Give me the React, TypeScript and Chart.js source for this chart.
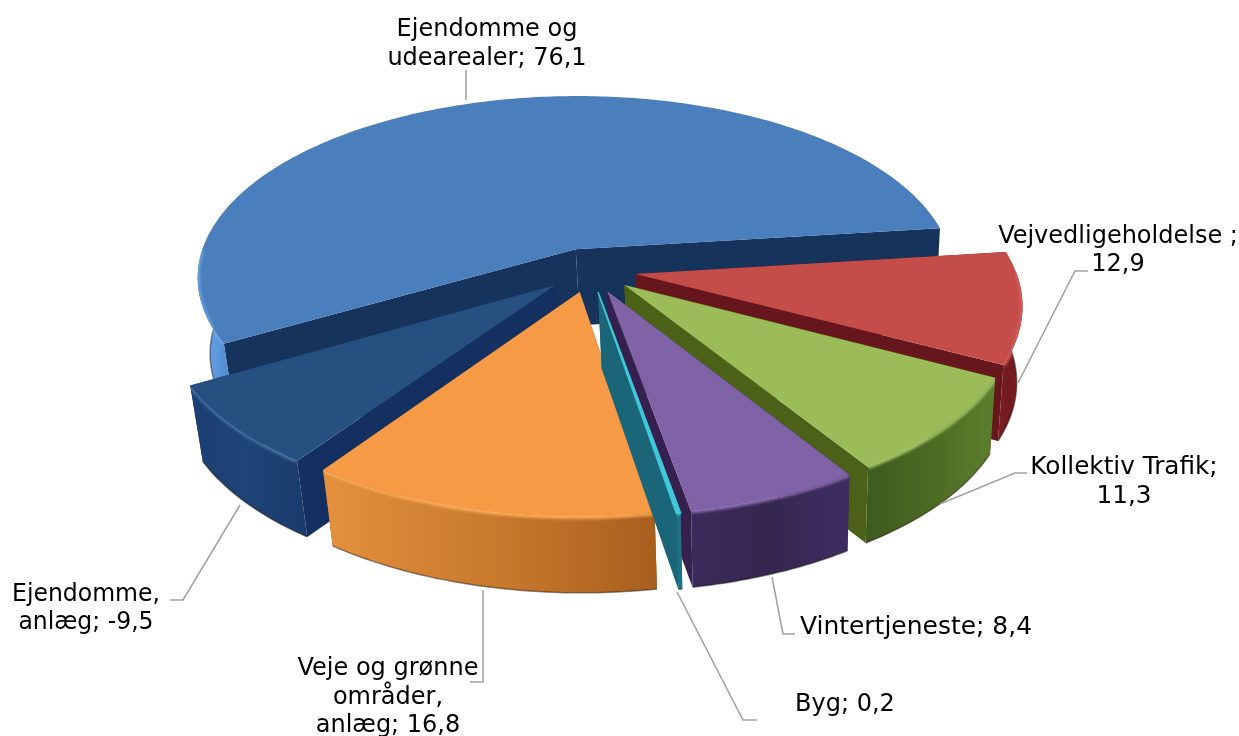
import React, { useEffect, useRef } from "react";
import { Chart, registerables } from "chart.js";

Chart.register(...registerables);

const categories = [
  "Vejvedligeholdelse ",
  "Kollektiv Trafik",
  "Vintertjeneste",
  "Byg",
  "Veje og grønne\nområder,\nanlæg",
  "Ejendomme,\nanlæg",
  "Ejendomme og\nudearealer",
];
const values = [12.9, 11.3, 8.4, 0.2, 16.8, -9.5, 76.1];
const breakBeforeValue = [true, true, false, false, false, false, false];

const topColors = ["#c44d4a", "#9cbc59", "#8062a6", "#3fc8d8", "#f79a45", "#26507f", "#4a7ebd"];
const wallColors = ["#66161c", "#4b6118", "#35204f", "#1a6678", "#8a4d14", "#133060", "#16335c"];
const rimStops = [
  ["#7d1f22", "#701a1f", "#8a2226"],
  ["#3f5a1f", "#4c6a23", "#5d7f2c"],
  ["#3b2a5b", "#35264f", "#3e2d62"],
  ["#1d7183", "#1d7183", "#1d7183"],
  ["#e4903e", "#c97a2d", "#a85f1e"],
  ["#1c3f73", "#1f4478", "#1a3a6c"],
  ["#6aa4e8", "#5e98dd", "#4a80c4"],
];
const bevelColors = ["#d9605c", "#a9c96a", "#9072b6", "#4fd4e0", "#ffb05a", "#4a78a8", "#6aa4e4"];
const topStroke = [0, 0, 0, 1.6, 0, 0, 0];
const drawOrder = [6, 0, 5, 1, 4, 2, 3];

// label layout, same index as categories
const labelCentres = [
  [1118, 237], [1124, 468], [916, 628], [845, 705], [388, 669], [86, 595], [487, 30],
];
const labelLineGap = [28, 29, 28, 28, 28.5, 28, 29];
const labelScaleX = [1, 1.03, 1.04, 1, 1, 0.98, 1];
const leaders = [
  [[1088, 271], [1075, 271], [1018, 383]],
  [[1027, 473], [1015, 473], [940, 504]],
  [[795, 634], [783, 634], [772, 577]],
  [[757, 720], [743, 720], [677, 592]],
  [[483, 590], [483, 682], [470, 682]],
  [[240, 505], [183, 600], [170, 600]],
  [[466, 70], [466, 100]],
];

const DEPTH = 76;
const TILT = 0.481;
const CAMERA = 2470;
const CONVERGE = 0.022;
const CONVERGE_X = 170;
const FACING = -0.02;

function project(e: any, dx: number, dy: number, z: number) {
  const s = 1 / (1 - dy / CAMERA);
  const x = dx * s;
  return [e.x + x + z * CONVERGE * (CONVERGE_X - x), e.y + TILT * dy * s + z * DEPTH];
}

function slicePaths(e: any) {
  const off = (e.options.offset || 0) / 4;
  const mid = (e.startAngle + e.endAngle) / 2;
  const ox = Math.cos(mid) * off;
  const oy = Math.sin(mid) * off;
  const steps = Math.max(2, Math.ceil((e.endAngle - e.startAngle) / 0.015));
  const angle = (i: number) => e.startAngle + ((e.endAngle - e.startAngle) * i) / steps;
  const arc = (z: number) => {
    const out: number[][] = [];
    for (let i = 0; i <= steps; i++) {
      const a = angle(i);
      out.push(project(e, ox + Math.cos(a) * e.outerRadius, oy + Math.sin(a) * e.outerRadius, z));
    }
    return out;
  };
  const top = arc(0);
  const bottom = arc(1);
  const facing = (_: number[], i: number) => Math.sin(angle(i)) > FACING;
  return {
    top,
    bottom,
    frontTop: top.filter(facing),
    frontBottom: bottom.filter(facing),
    apex0: project(e, ox, oy, 0),
    apex1: project(e, ox, oy, 1),
  };
}

function trace(ctx: CanvasRenderingContext2D, pts: number[][], close = true) {
  ctx.beginPath();
  pts.forEach((p, i) => (i ? ctx.lineTo(p[0], p[1]) : ctx.moveTo(p[0], p[1])));
  if (close) ctx.closePath();
}

const pie3d = {
  id: "pie3d",
  beforeDatasetDraw(chart: any, args: any) {
    const ctx: CanvasRenderingContext2D = chart.ctx;
    const arcs = chart.getDatasetMeta(args.index).data;
    drawOrder.forEach((i) => {
      const e = arcs[i];
      const { top, bottom, frontTop, frontBottom, apex0, apex1 } = slicePaths(e);
      const n = top.length - 1;
      ctx.save();

      ctx.fillStyle = wallColors[i];
      trace(ctx, [apex0, top[0], bottom[0], apex1]);
      ctx.fill();
      trace(ctx, [apex0, top[n], bottom[n], apex1]);
      ctx.fill();

      const band = frontTop.concat(frontBottom.slice().reverse());
      const xs = band.map((p) => p[0]);
      const g = ctx.createLinearGradient(Math.min(...xs), 0, Math.max(...xs), 0);
      rimStops[i].forEach((c, j) => g.addColorStop(j / 2, c));
      ctx.fillStyle = g;
      trace(ctx, band);
      ctx.fill();

      ctx.strokeStyle = "rgba(20,10,5,0.45)";
      ctx.lineWidth = 1.5;
      trace(ctx, frontBottom, false);
      ctx.stroke();

      ctx.fillStyle = topColors[i];
      trace(ctx, [apex0, ...top]);
      ctx.fill();
      if (topStroke[i]) {
        ctx.strokeStyle = topColors[i];
        ctx.lineWidth = topStroke[i];
        ctx.stroke();
      }

      ctx.save();
      trace(ctx, band);
      ctx.clip();
      ctx.filter = "blur(1.5px)";
      ctx.strokeStyle = bevelColors[i];
      ctx.lineWidth = 4;
      trace(ctx, frontTop, false);
      ctx.stroke();
      ctx.restore();

      ctx.restore();
    });
    return false;
  },
  afterDatasetsDraw(chart: any) {
    const ctx: CanvasRenderingContext2D = chart.ctx;
    ctx.save();
    ctx.strokeStyle = "#a3a3a3";
    ctx.lineWidth = 1.6;
    leaders.forEach((l) => {
      trace(ctx, l, false);
      ctx.stroke();
    });
    ctx.fillStyle = "#000000";
    ctx.font = '24px "DejaVu Sans"';
    ctx.textAlign = "center";
    ctx.textBaseline = "middle";
    categories.forEach((cat, i) => {
      const value = String(values[i]).replace(".", ",");
      const text = `${cat};${breakBeforeValue[i] ? "\n" : " "}${value}`;
      text.split("\n").forEach((line, j) => {
        ctx.save();
        ctx.translate(labelCentres[i][0], labelCentres[i][1] + j * labelLineGap[i]);
        ctx.scale(labelScaleX[i], 1);
        ctx.fillText(line, 0, 0);
        ctx.restore();
      });
    });
    ctx.restore();
  },
};

export default function App() {
  const ref = useRef<HTMLCanvasElement>(null);
  useEffect(() => {
    document.body.style.margin = "0";
    const chart = new Chart(ref.current!, {
      type: "pie",
      data: {
        labels: categories.map((c) => c.replace(/\n/g, " ")),
        datasets: [{ data: values, backgroundColor: topColors, borderWidth: 0, offset: 184 }],
      },
      options: {
        animation: false,
        responsive: false,
        events: [],
        rotation: 83,
        radius: 380,
        layout: { padding: { left: 0, top: 0, right: 59, bottom: 196 } },
        plugins: { legend: { display: false }, tooltip: { enabled: false } },
      } as any,
      plugins: [pie3d as any],
    });
    return () => chart.destroy();
  }, []);
  return (
    <div style={{ width: 1239, height: 736, background: "#fff" }}>
      <canvas ref={ref} width={1239} height={736} style={{ display: "block", filter: "blur(0.5px)" }} />
    </div>
  );
}
